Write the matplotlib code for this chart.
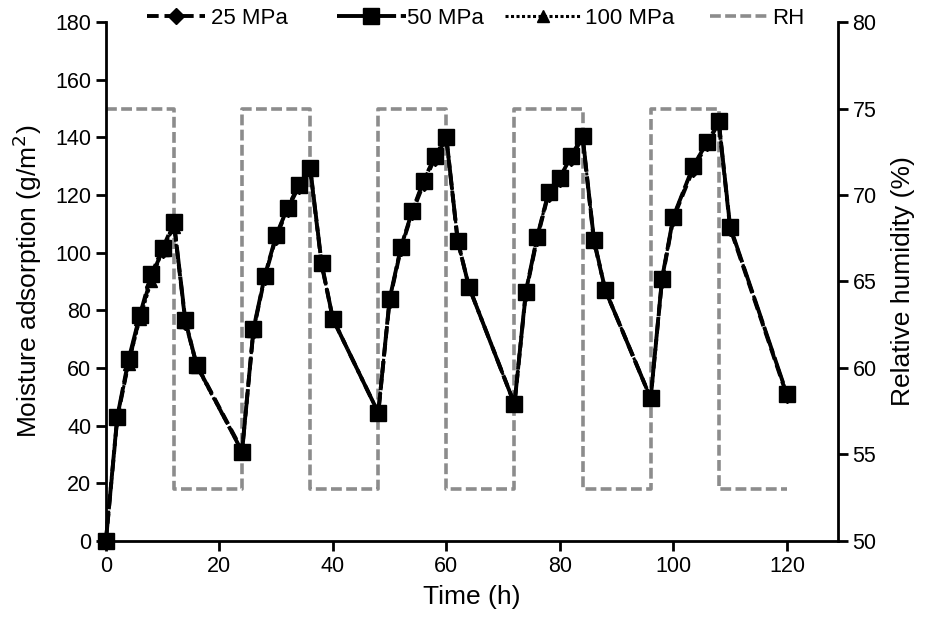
import matplotlib
matplotlib.use("Agg")
import matplotlib.pyplot as plt

plt.rcParams['font.family'] = ['Liberation Sans', 'DejaVu Sans']

# Time points (h)
time_h = [0, 2, 4, 6, 8, 10, 12, 14, 16, 24, 26, 28, 30, 32, 34, 36, 38, 40, 48,
          50, 52, 54, 56, 58, 60, 62, 64, 72, 74, 76, 78, 80, 82, 84, 86, 88, 96,
          98, 100, 103.5, 106, 108, 110, 120]

mpa50 = [0, 43, 63, 78.5, 92.5, 101.5, 110.5, 76.5, 61, 31, 73.5, 92, 106, 115.5, 123.5, 129.5, 96.5, 77, 44.5,
         84, 102, 114.5, 125, 133.5, 140, 104, 88, 47.5, 86.5, 105.5, 121, 126, 133.5, 140.5, 104.5, 87, 49.5,
         91, 112.5, 130, 138.5, 145.5, 109, 51]

mpa25 = [0, 42.5, 62, 78, 91.5, 101, 110, 76, 61, 31.5, 73, 91.5, 105.5, 115, 123, 129, 96, 77, 44.5,
         83.5, 101.5, 114, 124, 133, 139.5, 104, 88, 47.5, 86, 105, 120.5, 125.5, 133, 140, 104, 87, 49.5,
         90.5, 112, 129, 138, 145, 108.5, 50.5]

mpa100 = [0, 43, 61.5, 77, 90, 101, 109, 76, 60.5, 31, 73, 91.5, 106, 115.5, 123.5, 129.5, 96, 77, 44.5,
          84, 102, 114.5, 125, 133.5, 140, 104, 88, 47.5, 86.5, 105.5, 121, 126, 133.5, 140.5, 104.5, 87, 49.5,
          91, 112.5, 130, 138.5, 145.5, 109, 51]

# Relative humidity steps (%)
rh_time = [0, 12, 12, 24, 24, 36, 36, 48, 48, 60, 60, 72, 72, 84, 84, 96, 96, 108, 108, 120]
rh_vals = [75, 75, 53, 53, 75, 75, 53, 53, 75, 75, 53, 53, 75, 75, 53, 53, 75, 75, 53, 53]

x_ticks = [0, 20, 40, 60, 80, 100, 120]
y_ticks = [0, 20, 40, 60, 80, 100, 120, 140, 160, 180]
rh_ticks = [50, 55, 60, 65, 70, 75, 80]

fig = plt.figure(figsize=(9.29, 6.18), dpi=100)
ax = fig.add_axes([0.114, 0.1246, 0.788, 0.8398])
ax2 = ax.twinx()

# RH on secondary axis
l_rh, = ax2.plot(rh_time, rh_vals, color='#8c8c8c', lw=2.6, dashes=(3.0, 1.2), label='RH', zorder=1)

ax.set_zorder(ax2.get_zorder() + 1)
ax.patch.set_visible(False)

l25, = ax.plot(time_h, mpa25, color='black', lw=2.8, dashes=(3.0, 1.5), marker='D', ms=8,
               label='25 MPa', zorder=3, clip_on=False)
l50, = ax.plot(time_h, mpa50, color='black', lw=2.8, dashes=(7, 1.2), marker='s', ms=11,
               label='50 MPa', zorder=4, clip_on=False)
l100, = ax.plot(time_h, mpa100, color='black', lw=2.2, linestyle=(0, (1, 0.8)), marker='^', ms=9,
                label='100 MPa', zorder=5, clip_on=False)

ax.set_xlim(0, 129)
ax.set_ylim(0, 180)
ax2.set_ylim(50, 80)
ax.set_xticks(x_ticks)
ax.set_yticks(y_ticks)
ax2.set_yticks(rh_ticks)

for a in (ax, ax2):
    a.spines['top'].set_visible(False)
    for s in a.spines.values():
        s.set_linewidth(2.0)
    a.tick_params(direction='out', width=2.0, length=7, labelsize=15.5)
ax.spines['right'].set_visible(False)
ax2.spines['left'].set_visible(False)
ax2.spines['bottom'].set_visible(False)

ax.set_xlabel('Time (h)', fontsize=19, labelpad=6)
ax.set_ylabel('Moisture adsorption (g/m$^2$)', fontsize=19, labelpad=8)
ax2.set_ylabel('Relative humidity (%)', fontsize=19, labelpad=10)

W, H = 929.0, 618.0
leg_specs = [(l25, 147, 2.6, 0.3), (l50, 337, 3.1, 0.05), (l100, 505, 3.4, 0.2), (l_rh, 710, 2.7, 0.1)]
for h, xpx, hl, tp in leg_specs:
    lg = fig.legend(handles=[h], loc='center left', bbox_to_anchor=(xpx / W, 1 - 18 / H),
                    frameon=False, fontsize=16, handlelength=hl, handletextpad=tp,
                    borderaxespad=0, borderpad=0)

fig.savefig('out.png', dpi=100)
